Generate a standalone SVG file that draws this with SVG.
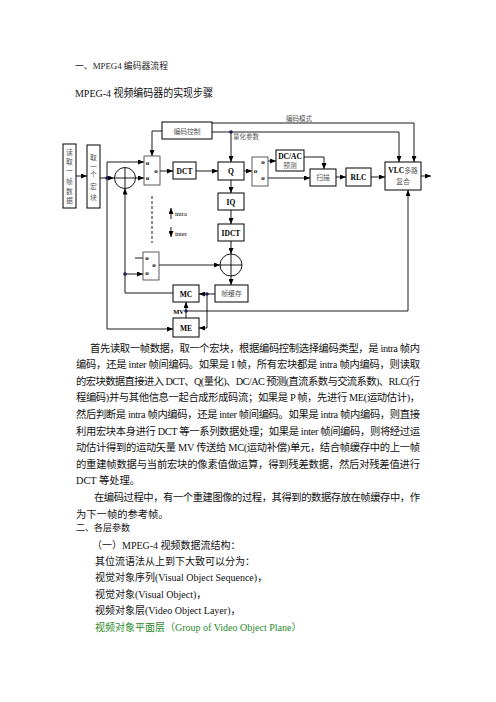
<svg xmlns="http://www.w3.org/2000/svg" width="496" height="702" viewBox="0 0 496 702">
<defs>
<marker id="ah" markerUnits="userSpaceOnUse" markerWidth="6" markerHeight="5" refX="6" refY="2.5" orient="auto">
<path d="M0,0 L6,2.5 L0,5 z" fill="#000"/>
</marker>
<style>
.box{fill:#fff;stroke:#000;stroke-width:1}
.sw{fill:#fff;stroke:#333;stroke-width:0.8}
.ln{fill:none;stroke:#000;stroke-width:0.9}
.ar{fill:none;stroke:#000;stroke-width:0.9;marker-end:url(#ah)}
.dot{fill:#1c1c5c}
.lt{font-family:"Liberation Serif","Noto Sans CJK SC",serif;font-size:7.5px;font-weight:bold;fill:#000;text-anchor:middle}
.cj{font-family:"Noto Sans CJK SC",sans-serif;font-size:6.8px;fill:#555;text-anchor:middle}
.o{font-family:"Liberation Serif",serif;font-size:7px;font-weight:bold;fill:#000;text-anchor:middle}
.sm{font-family:"Liberation Serif",serif;font-size:6.5px;font-weight:bold;fill:#000}
.body{font-family:"Liberation Serif","Noto Sans CJK SC",serif;font-size:10.3px;fill:#111}
.sec{font-family:"Liberation Serif","Noto Sans CJK SC",serif;font-size:10px;fill:#111}
</style>
</defs>
<rect width="496" height="702" fill="#fff"/>

<text x="75" y="69" textLength="93" lengthAdjust="spacingAndGlyphs" style="font-family:'Liberation Serif','Noto Sans CJK SC',serif;font-size:9px;fill:#222">一、MPEG4 编码器流程</text>
<text x="75" y="97" textLength="138" lengthAdjust="spacingAndGlyphs" style="font-family:'Liberation Serif','Noto Sans CJK SC',serif;font-size:10.8px;fill:#111">MPEG-4 视频编码器的实现步骤</text>

<g id="connectors">
<path class="ar" d="M76,176 H87"/>
<path class="ar" d="M100,178 H114"/>
<path class="ar" d="M135.5,178 H144"/>
<path class="ar" d="M107,178 V162 H144"/>
<path class="ar" d="M107,178 V329 H173"/>
<path class="ar" d="M173,293 H125 V188.5"/>
<path class="ar" d="M125,274 H143"/>
<path class="ln" d="M135,258 H145"/>
<path class="ar" d="M157,265 H220"/>
<path class="ar" d="M231,241 V254"/>
<path class="ar" d="M231,276 V285"/>
<path class="ar" d="M215,294 H199"/>
<path class="ar" d="M207,294 V328 H199"/>
<path class="ar" d="M186,318 V302"/>
<path class="ar" d="M186,311 H408 V190"/>
<path class="ar" d="M162,131 H152 V156"/>
<path class="ar" d="M212,123 H414 V162"/>
<path class="ar" d="M212,132 H399 V162"/>
<path class="ar" d="M231,132 V162"/>
<path class="ar" d="M159,171 H173"/>
<path class="ar" d="M196,171 H218"/>
<path class="ar" d="M231,180 V193"/>
<path class="ar" d="M231,210 V224"/>
<path class="ar" d="M244,171 H252"/>
<path class="ar" d="M266,161 H276"/>
<path class="ar" d="M266,178 H310"/>
<path class="ar" d="M304,157 H324 V169"/>
<path class="ar" d="M336,177 H346"/>
<path class="ar" d="M371,177 H385"/>
<path class="ar" d="M421,176 H431"/>
<path class="ln" d="M152,196 V243" stroke-dasharray="3,2"/>
<path class="ar" d="M171,219 V208"/>
<path class="ar" d="M171,227 V237"/>
<circle class="dot" cx="107" cy="178" r="1.8"/>
<circle class="dot" cx="125" cy="274" r="1.8"/>
<circle class="dot" cx="207" cy="294" r="1.8"/>
<circle class="dot" cx="186" cy="311" r="1.8"/>
<circle class="dot" cx="231" cy="132" r="1.8"/>
<text class="sm" x="175" y="236" style="font-weight:normal">inter</text>
<text class="sm" x="175" y="216" style="font-weight:normal">intra</text>
<text class="cj" x="299" y="121" style="font-size:6.5px">编码模式</text>
<text class="cj" x="246" y="139" style="font-size:6.5px">量化参数</text>
<text class="sm" x="184" y="314" text-anchor="end">MV</text>
</g>

<g id="n-read">
<rect class="box" x="63" y="144" width="13" height="64"/>
<text class="cj" x="69.5" y="154.5">读</text>
<text class="cj" x="69.5" y="163.5">取</text>
<text class="cj" x="69.5" y="172.5">一</text>
<text class="cj" x="69.5" y="183.5">帧</text>
<text class="cj" x="69.5" y="193.5">数</text>
<text class="cj" x="69.5" y="202.5">据</text>
</g>
<g id="n-mb">
<rect class="box" x="87" y="145" width="13" height="63"/>
<text class="cj" x="93.5" y="159.5">取</text>
<text class="cj" x="93.5" y="168.5">一</text>
<text class="cj" x="93.5" y="177">个</text>
<text class="cj" x="93.5" y="189">宏</text>
<text class="cj" x="93.5" y="199.5">块</text>
</g>
<g id="n-sub">
<circle cx="125" cy="178" r="10.5" fill="none" stroke="#000" stroke-width="0.9"/>
<path class="ln" d="M114.5,178 H135.5 M125,167.5 V188.5"/>
</g>
<g id="n-sw1">
<rect class="sw" x="144" y="156" width="16" height="29"/>
<text class="o" x="147.5" y="165">o</text>
<text class="o" x="156" y="173">o</text>
<text class="o" x="147.5" y="180">o</text>
</g>
<g id="n-ctrl">
<rect class="box" x="162" y="122" width="50" height="17"/>
<text class="cj" x="187" y="133.5">编码控制</text>
</g>
<g id="n-dct">
<rect class="box" x="173" y="162" width="23" height="17"/>
<text class="lt" x="184.5" y="173.5">DCT</text>
</g>
<g id="n-q">
<rect class="box" x="218" y="162" width="26" height="18"/>
<text class="lt" x="231" y="173.5">Q</text>
</g>
<g id="n-iq">
<rect class="box" x="218" y="193" width="26" height="17"/>
<text class="lt" x="231" y="204.5">IQ</text>
</g>
<g id="n-idct">
<rect class="box" x="218" y="224" width="26" height="17"/>
<text class="lt" x="231" y="235.5">IDCT</text>
</g>
<g id="n-sw2">
<rect class="sw" x="252" y="157" width="16" height="29"/>
<text class="o" x="255.5" y="173">o</text>
<text class="o" x="263" y="164">o</text>
<text class="o" x="263" y="180">o</text>
</g>
<g id="n-dcac">
<rect class="box" x="276" y="150" width="28" height="21"/>
<text class="lt" x="290" y="158.5">DC/AC</text>
<text class="cj" x="290" y="168">预测</text>
</g>
<g id="n-scan">
<rect class="box" x="310" y="169" width="26" height="17"/>
<text class="cj" x="323" y="180">扫描</text>
</g>
<g id="n-rlc">
<rect class="box" x="346" y="168" width="25" height="18"/>
<text class="lt" x="358.5" y="179.5">RLC</text>
</g>
<g id="n-vlc">
<rect class="box" x="385" y="162" width="36" height="28"/>
<text class="lt" x="403" y="172.5">VLC<tspan style="font-weight:normal;fill:#555;font-family:'Noto Sans CJK SC',sans-serif;font-size:6.8px">多路</tspan></text>
<text class="cj" x="403" y="184">复合</text>
</g>
<g id="n-sw3">
<rect class="sw" x="143" y="252" width="16" height="28"/>
<text class="o" x="147" y="260">o</text>
<text class="o" x="154" y="267">o</text>
<text class="o" x="147" y="275">o</text>
</g>
<g id="n-add">
<circle cx="231" cy="265" r="11" fill="none" stroke="#000" stroke-width="0.9"/>
<path class="ln" d="M220,265 H242 M231,254 V276"/>
</g>
<g id="n-mc">
<rect class="box" x="173" y="285" width="26" height="17"/>
<text class="lt" x="186" y="296.5">MC</text>
</g>
<g id="n-fb">
<rect class="box" x="215" y="285" width="33" height="17"/>
<text class="cj" x="231.5" y="296">帧缓存</text>
</g>
<g id="n-me">
<rect class="box" x="173" y="318" width="26" height="19"/>
<text class="lt" x="186" y="330.5">ME</text>
</g>

<g id="body">
<text class="body" x="90" y="351.5" textLength="330" lengthAdjust="spacing">首先读取一帧数据，取一个宏块，根据编码控制选择编码类型，是 intra 帧内</text>
<text class="body" x="76" y="368.1" textLength="344" lengthAdjust="spacing">编码，还是 inter 帧间编码。如果是 I 帧，所有宏块都是 intra 帧内编码，则读取</text>
<text class="body" x="76" y="384.7" textLength="344" lengthAdjust="spacing">的宏块数据直接进入 DCT、Q(量化)、DC/AC 预测(直流系数与交流系数)、RLC(行</text>
<text class="body" x="76" y="401.3" textLength="344" lengthAdjust="spacing">程编码)并与其他信息一起合成形成码流；如果是 P 帧，先进行 ME(运动估计)，</text>
<text class="body" x="76" y="417.9" textLength="344" lengthAdjust="spacing">然后判断是 intra 帧内编码，还是 inter 帧间编码。如果是 intra 帧内编码，则直接</text>
<text class="body" x="76" y="434.5" textLength="344" lengthAdjust="spacing">利用宏块本身进行 DCT 等一系列数据处理；如果是 inter 帧间编码，则将经过运</text>
<text class="body" x="76" y="451.1" textLength="344" lengthAdjust="spacing">动估计得到的运动矢量 MV 传送给 MC(运动补偿)单元，结合帧缓存中的上一帧</text>
<text class="body" x="76" y="467.7" textLength="344" lengthAdjust="spacing">的重建帧数据与当前宏块的像素值做运算，得到残差数据，然后对残差值进行</text>
<text class="body" x="76" y="484.3">DCT 等处理。</text>
<text class="body" x="94" y="500.9" textLength="326" lengthAdjust="spacing">在编码过程中，有一个重建图像的过程，其得到的数据存放在帧缓存中，作</text>
<text class="body" x="76" y="517.5">为下一帧的参考帧。</text>
<text class="sec" x="76" y="531" style="font-size:9px">二、各层参数</text>
<text class="sec" x="92" y="548.5">（一）MPEG-4 视频数据流结构：</text>
<text class="sec" x="95" y="564.5">其位流语法从上到下大致可以分为：</text>
<text class="sec" x="95" y="580.8">视觉对象序列(Visual Object Sequence)，</text>
<text class="sec" x="95" y="597.5">视觉对象(Visual Object)，</text>
<text class="sec" x="95" y="614.2">视频对象层(Video Object Layer)，</text>
<text class="sec" x="95" y="630.5" style="fill:#2a8a2a">视频对象平面层（Group of Video Object Plane）</text>
</g>
</svg>
